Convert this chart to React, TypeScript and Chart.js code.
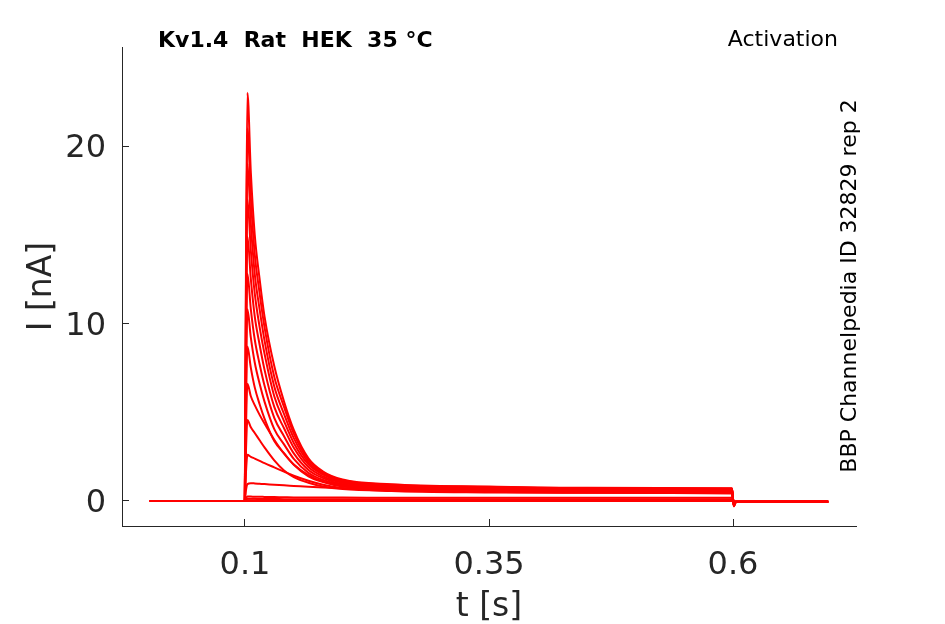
import React, { useEffect, useRef } from 'react';
import { Chart, registerables } from 'chart.js';

Chart.register(...registerables);

// sample times [s] shared by every sweep
const times = [0.0025, 0.0998, 0.101, 0.1025, 0.106, 0.11, 0.115, 0.12, 0.13, 0.14, 0.15, 0.165, 0.18, 0.2, 0.25, 0.35, 0.45, 0.599, 0.6008, 0.603, 0.6975];

// current [nA] of each sweep, smallest step first
const trace01 = [0, 0, 0, 0, 0, 0, 0, 0, 0, 0, 0, 0, 0, 0, 0, 0, 0, 0, -0.02, -0.02, -0.02];
const trace02 = [0, 0, 0.02, 0.04, 0.04, 0.04, 0.04, 0.04, 0.04, 0.03, 0.03, 0.03, 0.03, 0.03, 0.03, 0.03, 0.03, 0.03, -0.03, -0.03, -0.03];
const trace03 = [0, 0, 0.06, 0.12, 0.12, 0.12, 0.11, 0.11, 0.11, 0.1, 0.1, 0.1, 0.1, 0.1, 0.1, 0.1, 0.1, 0.1, -0.05, -0.04, -0.04];
const trace04 = [0, 0, 0.15, 0.25, 0.25, 0.24, 0.24, 0.23, 0.22, 0.21, 0.2, 0.2, 0.19, 0.19, 0.18, 0.18, 0.18, 0.18, -0.08, -0.05, -0.04];
const trace05 = [0, 0, 0.6, 0.95, 1.0, 0.99, 0.97, 0.95, 0.92, 0.88, 0.85, 0.8, 0.76, 0.72, 0.62, 0.52, 0.46, 0.42, -0.12, -0.05, -0.04];
const trace06 = [0, 0, 1.6, 2.6, 2.49, 2.39, 2.26, 2.13, 1.89, 1.65, 1.42, 1.14, 0.92, 0.73, 0.56, 0.48, 0.46, 0.45, -0.15, -0.05, -0.04];
const trace07 = [0, 0, 2.8, 4.56, 4.15, 3.83, 3.42, 3.02, 2.29, 1.72, 1.35, 1.03, 0.82, 0.68, 0.58, 0.53, 0.51, 0.5, -0.18, -0.05, -0.04];
const trace08 = [0, 0, 4.0, 6.6, 5.9, 5.4, 4.85, 4.36, 3.45, 2.67, 2.06, 1.46, 1.09, 0.85, 0.67, 0.59, 0.56, 0.55, -0.2, -0.05, -0.04];
const trace09 = [0, 0, 5.2, 8.7, 7.5, 6.4, 5.45, 4.64, 3.38, 2.69, 2.04, 1.39, 1.07, 0.82, 0.7, 0.62, 0.6, 0.58, -0.22, -0.06, -0.04];
const trace10 = [0, 0, 6.4, 10.8, 9.2, 7.8, 6.6, 5.6, 4.05, 3.19, 2.37, 1.58, 1.18, 0.9, 0.74, 0.65, 0.62, 0.6, -0.22, -0.06, -0.04];
const trace11 = [0, 0, 7.6, 12.8, 10.8, 9.1, 7.7, 6.5, 4.68, 3.65, 2.68, 1.75, 1.29, 0.95, 0.79, 0.68, 0.64, 0.62, -0.25, -0.06, -0.04];
const trace12 = [0, 0, 8.8, 14.9, 12.5, 10.4, 8.8, 7.4, 5.3, 4.1, 3.0, 1.91, 1.38, 1.01, 0.82, 0.71, 0.66, 0.64, -0.25, -0.06, -0.04];
const trace13 = [0, 0, 10, 17, 14.1, 11.7, 9.8, 8.3, 5.9, 4.5, 3.27, 2.06, 1.48, 1.07, 0.86, 0.73, 0.68, 0.66, -0.28, -0.06, -0.04];
const trace14 = [0, 0, 11, 19, 15.6, 12.8, 10.8, 9.05, 6.45, 4.9, 3.54, 2.18, 1.54, 1.12, 0.88, 0.75, 0.7, 0.68, -0.28, -0.06, -0.04];
const trace15 = [0, 0, 12, 21, 17.1, 13.9, 11.7, 9.8, 7.0, 5.3, 3.8, 2.3, 1.61, 1.17, 0.92, 0.79, 0.72, 0.7, -0.3, -0.06, -0.04];
const trace16 = [0, 0, 13, 23, 18.5, 15.0, 12.5, 10.4, 7.6, 5.6, 4.0, 2.4, 1.66, 1.21, 0.94, 0.81, 0.74, 0.72, -0.3, -0.06, -0.04];

const traces = [trace01, trace02, trace03, trace04, trace05, trace06, trace07, trace08,
  trace09, trace10, trace11, trace12, trace13, trace14, trace15, trace16];

const xTicks = [0.1, 0.35, 0.6];
const yTicks = [0, 10, 20];

const titleText = 'Kv1.4  Rat  HEK  35 °C';
const protocolText = 'Activation';
const sourceText = 'BBP Channelpedia ID 32829 rep 2';

const axisColor = '#262626';
const fontFamily = '"DejaVu Sans", sans-serif';

// corner labels and the vertical source note
const textPlugin = {
  id: 'cornerText',
  afterDraw(chart: Chart) {
    const ctx = chart.ctx;
    ctx.save();
    ctx.fillStyle = '#000000';
    ctx.textBaseline = 'middle';
    ctx.textAlign = 'left';
    ctx.font = `bold 22px ${fontFamily}`;
    ctx.fillText(titleText, 158, 41);
    ctx.textAlign = 'right';
    ctx.font = `22px ${fontFamily}`;
    ctx.fillText(protocolText, 838, 40);
    ctx.translate(850, 286);
    ctx.rotate(-Math.PI / 2);
    ctx.textAlign = 'center';
    ctx.fillText(sourceText, 0, 0);
    ctx.restore();
  },
};

const App: React.FC = () => {
  const canvasRef = useRef<HTMLCanvasElement>(null);
  const chartRef = useRef<Chart | null>(null);

  useEffect(() => {
    if (!canvasRef.current) return;
    const ctx = canvasRef.current.getContext('2d');
    if (!ctx) return;
    if (chartRef.current) chartRef.current.destroy();

    chartRef.current = new Chart(ctx, {
      type: 'line',
      data: {
        datasets: traces.map((trace, i) => ({
          label: `sweep ${i + 1}`,
          data: trace.map((v, j) => ({ x: times[j], y: v })),
          borderColor: '#ff0000',
          backgroundColor: '#ff0000',
          borderWidth: 2,
          pointRadius: 0,
          cubicInterpolationMode: 'monotone' as const,
          fill: false,
        })),
      },
      options: {
        responsive: true,
        maintainAspectRatio: false,
        animation: false,
        layout: { padding: { left: 0, top: 47, right: 89, bottom: 0 } },
        plugins: {
          legend: { display: false },
          tooltip: { enabled: false },
        },
        scales: {
          x: {
            type: 'linear',
            min: -0.026,
            max: 0.726,
            afterBuildTicks: (scale: any) => {
              scale.ticks = xTicks.map((v) => ({ value: v }));
            },
            afterFit: (scale: any) => {
              scale.height = 98;
            },
            grid: { drawOnChartArea: false, drawTicks: true, tickLength: -7, color: axisColor, lineWidth: 1 },
            border: { display: true, color: axisColor, width: 1 },
            ticks: {
              color: axisColor,
              font: { family: fontFamily, size: 32 },
              padding: 27,
              maxRotation: 0,
              autoSkip: false,
              callback: (v: any) => String(v),
            },
            title: {
              display: true,
              text: 't [s]',
              color: axisColor,
              font: { family: fontFamily, size: 33, lineHeight: 1 },
              padding: { top: 0, bottom: 0 },
            },
          },
          y: {
            type: 'linear',
            min: -1.41,
            max: 25.58,
            afterBuildTicks: (scale: any) => {
              scale.ticks = yTicks.map((v) => ({ value: v }));
            },
            afterFit: (scale: any) => {
              scale.width = 122;
            },
            grid: { drawOnChartArea: false, drawTicks: true, tickLength: -7, color: axisColor, lineWidth: 1 },
            border: { display: true, color: axisColor, width: 1 },
            ticks: {
              color: axisColor,
              font: { family: fontFamily, size: 32 },
              padding: 23,
              labelOffset: 3,
              autoSkip: false,
              callback: (v: any) => String(v),
            },
            title: {
              display: true,
              text: 'I [nA]',
              color: axisColor,
              font: { family: fontFamily, size: 33 },
              padding: { top: 23, bottom: 0 },
            },
          },
        },
      },
      plugins: [textPlugin],
    });

    return () => {
      if (chartRef.current) {
        chartRef.current.destroy();
        chartRef.current = null;
      }
    };
  }, []);

  return (
    <div style={{ position: 'fixed', left: 0, top: 0, width: 945, height: 624, background: '#ffffff' }}>
      <canvas ref={canvasRef}></canvas>
    </div>
  );
};

export default App;
